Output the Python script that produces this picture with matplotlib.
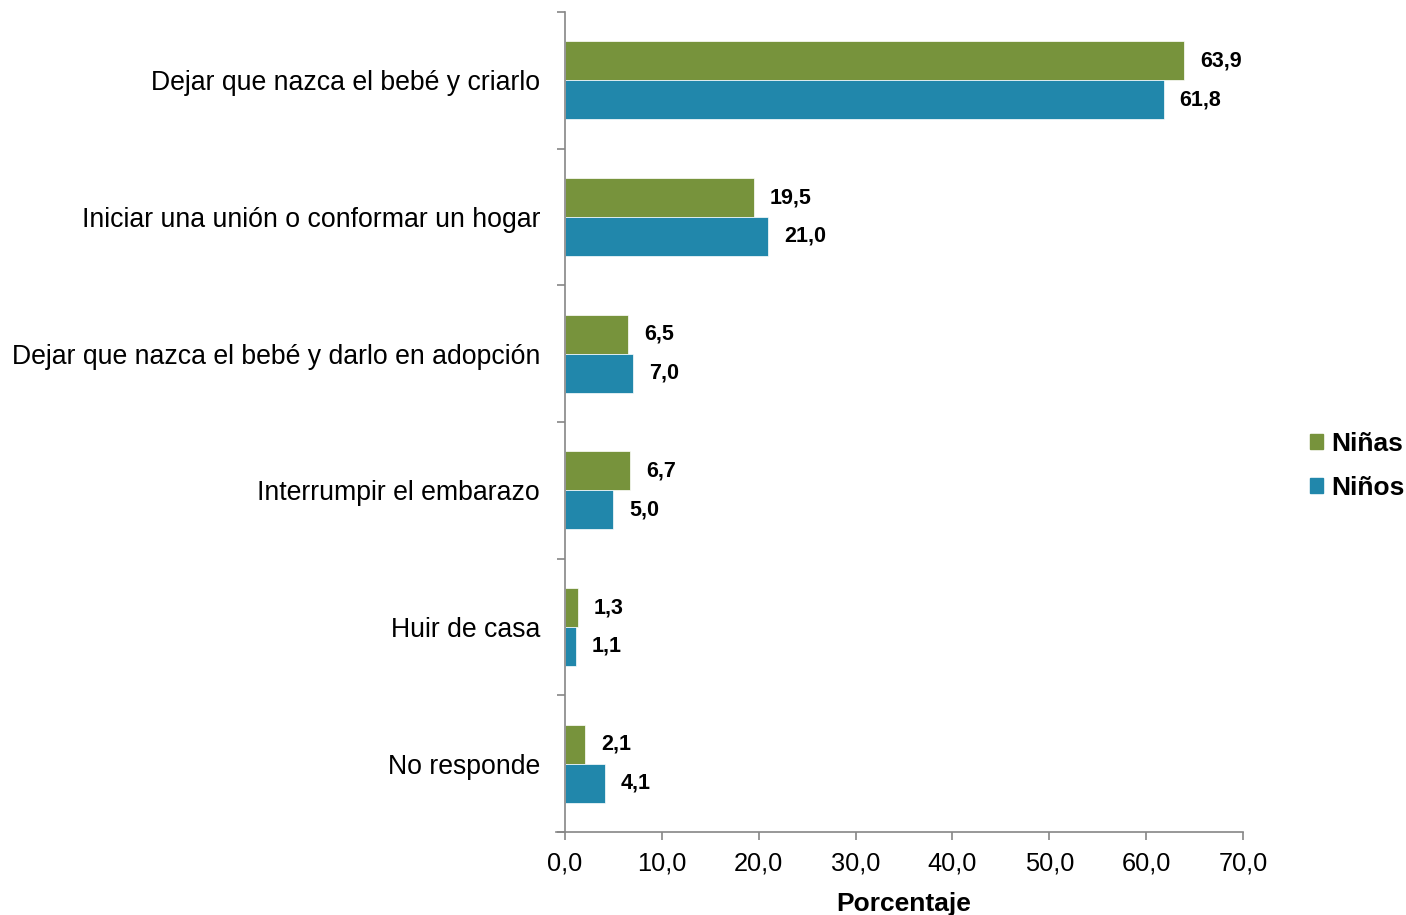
import matplotlib
matplotlib.use("Agg")
import matplotlib.pyplot as plt
from matplotlib.patches import Patch
import numpy as np

plt.rcParams['font.family'] = ['Liberation Sans', 'DejaVu Sans']

categories = ["Dejar que nazca el bebé y criarlo",
              "Iniciar una unión o conformar un hogar",
              "Dejar que nazca el bebé y darlo en adopción",
              "Interrumpir el embarazo",
              "Huir de casa",
              "No responde"]
ninas = [63.9, 19.5, 6.5, 6.7, 1.3, 2.1]
ninos = [61.8, 21.0, 7.0, 5.0, 1.1, 4.1]
series_names = ["Niñas", "Niños"]
xticks = [0, 10, 20, 30, 40, 50, 60, 70]

green = "#77933C"
blue = "#2187AB"
gray = "#868686"

fig = plt.figure(figsize=(14.06, 9.15), dpi=100)
ax = fig.add_axes([565/1406, 1-832/915, (1243-565)/1406, (832-12)/915])

y = np.arange(len(categories)) + 0.5
h = 0.285
ax.barh(y - h/2, ninas, height=h, color=green, edgecolor="white", linewidth=0.5)
ax.barh(y + h/2, ninos, height=h, color=blue, edgecolor="white", linewidth=0.5)

def fmt(v):
    return f"{v:.1f}".replace(".", ",")

for yi, v in zip(y - h/2, ninas):
    ax.annotate(fmt(v), (v, yi), xytext=(11.5, 0), textcoords="offset points",
                ha="left", va="center", fontsize=15.5, fontweight="bold")
for yi, v in zip(y + h/2, ninos):
    ax.annotate(fmt(v), (v, yi), xytext=(11.5, 0), textcoords="offset points",
                ha="left", va="center", fontsize=15.5, fontweight="bold")

ax.set_xlim(0, 70)
ax.set_ylim(len(categories), 0)
ax.set_xticks(xticks)
ax.set_xticklabels([fmt(t) for t in xticks], fontsize=18.3)
ax.set_yticks(np.arange(len(categories) + 1))
ax.set_yticklabels([])
ax.set_yticks(y, minor=True)
ax.set_yticklabels(categories, minor=True, fontsize=19.2)
ax.tick_params(axis="y", which="minor", length=0, pad=18)
ax.tick_params(axis="y", which="major", length=6, color=gray, width=1.2)
ax.tick_params(axis="x", length=6, color=gray, width=1.2, pad=8)

for s in ["top", "right"]:
    ax.spines[s].set_visible(False)
for s in ["left", "bottom"]:
    ax.spines[s].set_color(gray)
    ax.spines[s].set_linewidth(1.2)
ax.spines["bottom"].set_bounds(-0.9, 70)
ax.set_xlabel("Porcentaje", fontsize=19, fontweight="bold", labelpad=12)

handles = [Patch(color=green), Patch(color=blue)]
fig.legend(handles, series_names, loc="center left", bbox_to_anchor=(1310/1406, 1-466/915),
           frameon=False, prop={"weight": "bold", "size": 19},
           borderpad=0, borderaxespad=0,
           handlelength=0.5, handleheight=0.5, handletextpad=0.3, labelspacing=0.75)

fig.savefig("out.png", dpi=100)
